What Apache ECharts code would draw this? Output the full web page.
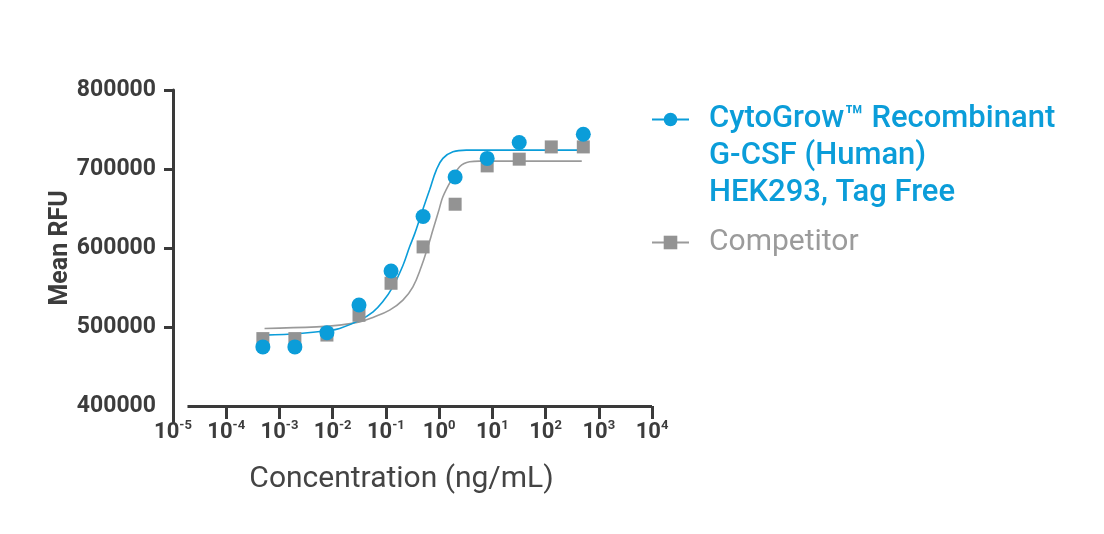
<!DOCTYPE html>
<html>
<head>
<meta charset="utf-8">
<script src="https://cdn.jsdelivr.net/npm/echarts@6/dist/echarts.min.js"></script>
<style>
  html, body { margin: 0; padding: 0; background: #fff; }
  #chart { width: 1104px; height: 534px; }
</style>
</head>
<body>
<div id="chart"></div>
<script>
// concentration of each well, ng/mL (4-fold dilutions)
const concentrations = [0.000488, 0.00195, 0.0078, 0.03125, 0.125, 0.5, 2, 8, 32, 128, 512];
const cytogrowValues = [475000, 475000, 493000, 528000, 571000, 640000, 690000, 713500, 733500, null, 744000];
const competitorValues = [485500, 485500, 490000, 515000, 555500, 601500, 655500, 704000, 712500, 728000, 728000];

// fitted curves, points
const cytogrowCurveX = [0.000525, 0.0024, 0.0079, 0.0135, 0.0324, 0.0575, 0.0871, 0.135, 0.209, 0.279, 0.347, 0.462, 0.661, 0.885, 1.178, 1.82, 3.24, 437];
const cytogrowCurveY = [489900, 492000, 495500, 498400, 508900, 519400, 532000, 551000, 578000, 601600, 618000, 643000, 673400, 698700, 713500, 721900, 724000, 724000];
const competitorCurveX = [0.000525, 0.005, 0.0135, 0.0321, 0.057, 0.1175, 0.209, 0.322, 0.462, 0.615, 0.764, 1.0, 1.178, 1.694, 2.427, 3.74, 5.75, 479];
const competitorCurveY = [498300, 500300, 502500, 506700, 512300, 521500, 534200, 551000, 576300, 601600, 622800, 649000, 665000, 686100, 702900, 709200, 710000, 710000];

const yLabels = [400000, 500000, 600000, 700000, 800000];
const yTicks = [500000, 600000, 700000, 800000];

const cytogrowName = 'CytoGrow™ Recombinant\nG-CSF (Human)\nHEK293, Tag Free';
const competitorName = 'Competitor';

const blue = '#0b9dd9';
const grey = '#939393';
const axisColor = '#3a3a3a';

function pairs(xs, ys) {
  const out = [];
  xs.forEach((x, i) => { if (ys[i] != null) out.push([x, ys[i]]); });
  return out;
}

const chart = echarts.init(document.getElementById('chart'));
chart.setOption({
  animation: false,
  textStyle: { fontFamily: 'Roboto' },
  grid: { left: 173, right: 452, top: 90, bottom: 112 },
  legend: {
    left: 646,
    top: 22,
    orient: 'vertical',
    itemWidth: 37,
    itemHeight: 17,
    itemGap: 12,
    selectedMode: false,
    formatter: name => name.indexOf('\n') >= 0 ? '\n\n' + name : name,
    textStyle: { fontSize: 30, lineHeight: 37, padding: [0, 0, 0, 15] },
    data: [
      { name: cytogrowName, textStyle: { color: blue, fontWeight: 500, fontSize: 31 } },
      { name: competitorName, textStyle: { color: '#9b9b9b', fontWeight: 400, fontSize: 30 } }
    ]
  },
  xAxis: {
    type: 'log',
    logBase: 10,
    min: 1e-5,
    max: 1e4,
    splitNumber: 9,
    offset: -16,
    name: 'Concentration (ng/mL)',
    nameLocation: 'middle',
    nameGap: 58,
    nameTextStyle: { fontSize: 30, color: '#444', padding: [0, 22, 0, 0] },
    axisLine: { show: false },
    axisTick: { show: true, length: 13, lineStyle: { color: axisColor, width: 3 } },
    splitLine: { show: false },
    axisLabel: {
      margin: 13,
      formatter: v => '{b|10}{s|' + Math.round(Math.log10(v)) + '}',
      rich: {
        b: { fontSize: 22, fontWeight: 'bold', color: '#3c3c3c', lineHeight: 26 },
        s: { fontSize: 13, fontWeight: 'bold', color: '#3c3c3c', verticalAlign: 'top' }
      }
    }
  },
  yAxis: {
    type: 'value',
    min: 380000,
    max: 800000,
    name: 'Mean RFU',
    nameLocation: 'middle',
    nameGap: 99,
    nameTextStyle: { fontSize: 25, fontWeight: 'bold', color: '#3c3c3c', padding: [0, 0, 0, 16] },
    axisLine: { show: true, lineStyle: { color: axisColor, width: 3 } },
    axisTick: { show: true, length: 9, customValues: yTicks, lineStyle: { color: axisColor, width: 3 } },
    splitLine: { show: false },
    axisLabel: {
      customValues: yLabels,
      formatter: v => String(v),
      margin: 17,
      fontSize: 23,
      fontWeight: 'bold',
      color: '#3c3c3c'
    }
  },
  series: [
    {
      name: competitorName,
      type: 'line',
      data: pairs(competitorCurveX, competitorCurveY),
      smooth: 0.4,
      showSymbol: false,
      symbol: 'rect',
      symbolSize: 13,
      itemStyle: { color: grey },
      lineStyle: { color: '#9a9a9a', width: 1.6 },
      z: 2,
      markLine: {
        silent: true,
        symbol: ['none', 'none'],
        label: { show: false },
        lineStyle: { color: axisColor, width: 3, type: 'solid' },
        data: [[{ coord: [1.87e-5, 400000] }, { coord: [1e4, 400000] }]]
      }
    },
    {
      name: cytogrowName,
      type: 'line',
      data: pairs(cytogrowCurveX, cytogrowCurveY),
      smooth: 0.4,
      showSymbol: false,
      symbol: 'circle',
      symbolSize: 15,
      itemStyle: { color: blue },
      lineStyle: { color: blue, width: 1.6 },
      z: 3
    },
    {
      name: 'Competitor points',
      type: 'scatter',
      data: pairs(concentrations, competitorValues),
      symbol: 'rect',
      symbolSize: 13,
      itemStyle: { color: grey, opacity: 1 },
      z: 4
    },
    {
      name: 'CytoGrow points',
      type: 'scatter',
      data: pairs(concentrations, cytogrowValues),
      symbol: 'circle',
      symbolSize: 15,
      itemStyle: { color: blue, opacity: 1 },
      z: 5
    }
  ]
});
</script>
</body>
</html>
